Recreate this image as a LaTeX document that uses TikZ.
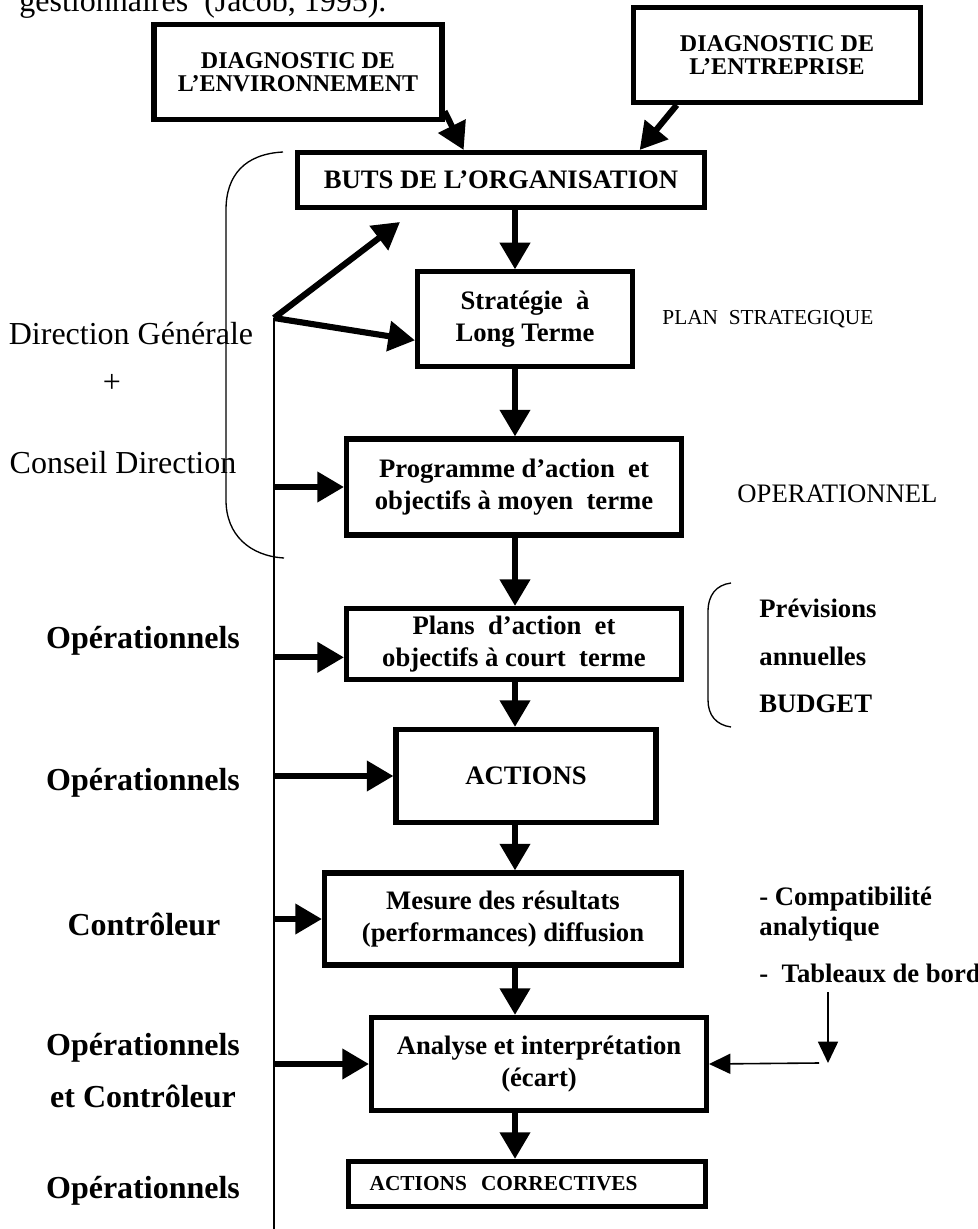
\documentclass[tikz,border=0pt]{standalone}
\usepackage{fontspec}
\setmainfont{Liberation Serif}
\usetikzlibrary{arrows.meta}

\tikzset{
  box/.style={draw, line width=1.9pt, inner sep=0pt, align=center,
    font=\bfseries\fontsize{10}{12}\selectfont},
  diag/.style={box, font=\bfseries\fontsize{9}{8.5}\selectfont},
  flow/.style={line width=2.3pt, -{Triangle[length=10pt,width=11pt]}},
  feed/.style={line width=0.6pt, -{Triangle[length=8pt,width=7.5pt]}},
  who/.style={anchor=base, font=\bfseries\fontsize{12}{14}\selectfont},
  side/.style={anchor=base west, font=\bfseries\fontsize{10}{12}\selectfont},
}

\begin{document}
\begin{tikzpicture}[x=0.375pt, y=-0.375pt]
  \useasboundingbox (0,0) rectangle (977,1229);
  \node[anchor=base west, font=\fontsize{12}{14}\selectfont] (cite) at (10,12) {gestionnaires~ (Jacob, 1995).};

  % les cases
  \node[diag, minimum width=108pt, minimum height=35.6pt] (env) at (298,72) {DIAGNOSTIC DE\\L’ENVIRONNEMENT};
  \node[diag, minimum width=107.3pt, minimum height=35.6pt] (ent) at (777,55) {DIAGNOSTIC DE\\L’ENTREPRISE};
  \node[box, minimum width=152.6pt, minimum height=20.6pt] (buts) at (501,180) {BUTS DE L’ORGANISATION};
  \node[box, minimum width=80.6pt, minimum height=35.3pt] (strat) at (525,319) {Stratégie~ à\\Long Terme};
  \node[box, minimum width=125.6pt, minimum height=36pt] (prog) at (514,487) {Programme d’action~ et\\objectifs à moyen~ terme};
  \node[box, minimum width=125.6pt, minimum height=26.6pt] (plans) at (514,644) {Plans~ d’action~ et\\objectifs à court~ terme};
  \node[box, minimum width=97.5pt, minimum height=34.9pt] (act) at (526,776) {ACTIONS};
  \node[box, minimum width=133.9pt, minimum height=34.5pt] (mes) at (503,919) {Mesure des résultats\\(performances) diffusion};
  \node[box, minimum width=125.6pt, minimum height=34.9pt] (ana) at (539,1064) {Analyse et interprétation\\(écart)};
  \node[box, font=\bfseries\fontsize{8}{10}\selectfont, align=left, text width=118pt, inner xsep=8pt,
        minimum height=16.9pt] (corr) at (527,1184) {ACTIONS~ CORRECTIVES};

  % textes a gauche
  \node[anchor=base, font=\fontsize{12}{14}\selectfont] (dg) at (131,345) {Direction Générale};
  \node[anchor=base, font=\fontsize{12}{14}\selectfont] (plus) at (112,393) {+};
  \node[anchor=base, font=\fontsize{12}{14}\selectfont] (cd) at (123,473) {Conseil Direction};
  \node[who] (op1) at (143,648) {Opérationnels};
  \node[who] (op2) at (143,790) {Opérationnels};
  \node[who] (ctl) at (144,935) {Contrôleur};
  \node[who] (op3) at (143,1055) {Opérationnels};
  \node[who] (etc) at (143,1107) {et Contrôleur};
  \node[who] (op4) at (143,1198) {Opérationnels};

  % textes a droite
  \node[anchor=base west, font=\fontsize{8}{10}\selectfont] (plan) at (653,325) {PLAN~ STRATEGIQUE};
  \node[anchor=base west, font=\fontsize{10}{12}\selectfont] (opl) at (728,502) {OPERATIONNEL};
  \node[side] (prev) at (750,617) {Prévisions};
  \node[side] (ann) at (750,665) {annuelles};
  \node[side] (budg) at (750,712) {BUDGET};
  \node[side] (comp) at (750,905) {- Compatibilité};
  \node[side] (analy) at (750,935) {analytique};
  \node[side] (tab) at (750,982) {-~ Tableaux de bord};

  % accolades
  \draw[line width=0.5pt] (283,152) .. controls (245,154) and (226,175) .. (226,210) -- (226,500)
        .. controls (226,535) and (250,556) .. (284,558);
  \draw[line width=0.5pt] (731,583) .. controls (716,585) and (708,595) .. (708,612) -- (708,700)
        .. controls (708,715) and (716,725) .. (731,727);

  % fleches
  \coordinate (pivot) at (274,318);
  \coordinate (foot) at (274,1229);
  \coordinate (axis) at (515,0);
  \coordinate (goal) at (400,222);
  \draw[line width=0.6pt] (pivot) -- (foot);
  \draw[flow] (pivot) -- (goal);
  \draw[flow] (pivot) -- ([yshift=-8pt]strat.west);
  \draw[flow] ([yshift=4pt]env.south east) -- ([xshift=-14pt]buts.north);
  \draw[flow] ([xshift=17pt]ent.south west) -- ([xshift=52pt]buts.north);
  \foreach \a/\b in {buts/strat, strat/prog, prog/plans, plans/act, act/mes, mes/ana, ana/corr}
    \draw[flow] (\a.south -| axis) -- (\b.north -| axis);
  \path ([yshift=-5pt]plans.west) coordinate (plansin);
  \draw[flow] (pivot |- plansin) -- (plansin);
  \foreach \b in {prog, act, mes, ana}
    \draw[flow] (pivot |- \b.west) -- (\b.west);

  \coordinate (tabtop) at (828,992);
  \coordinate (tabend) at (828,1063);
  \coordinate (tabside) at (819,1063);
  \draw[feed] (tabtop) -- (tabend);
  \draw[feed] (tabside) -- (ana.east);
\end{tikzpicture}
\end{document}
